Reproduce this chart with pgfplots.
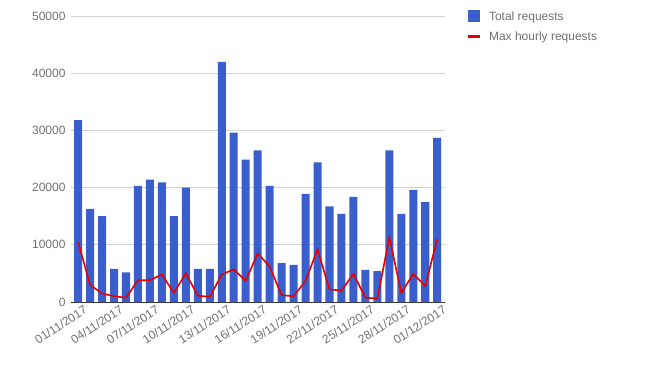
\documentclass[border=0pt]{standalone}
\usepackage{fontspec}
\setmainfont{Liberation Sans}
\usepackage{pgfplots}
\usepackage{pgfplotstable}
\pgfplotsset{compat=1.18}
\definecolor{barblue}{RGB}{58,95,205}
\definecolor{linered}{RGB}{230,0,0}
\definecolor{txtgray}{RGB}{112,112,112}
\definecolor{gridgray}{RGB}{210,210,210}
\definecolor{axisgray}{RGB}{60,60,60}

\pgfplotstableread{
x total max
0 31800 10500
1 16300 3000
2 15000 1500
3 5800 1000
4 5200 750
5 20300 3800
6 21400 3800
7 20900 4800
8 15000 1600
9 20000 5000
10 5800 1100
11 5800 900
12 42000 4800
13 29600 5700
14 24900 3700
15 26500 8500
16 20300 6200
17 6800 1200
18 6500 1000
19 18900 3700
20 24400 9200
21 16700 2200
22 15400 2000
23 18400 4900
24 5600 750
25 5400 600
26 26500 11300
27 15400 1600
28 19600 4900
29 17500 2800
30 28700 11000
}\data

\begin{document}
\begin{tikzpicture}
\begin{axis}[
  name=ax,
  scale only axis,
  width=374.3bp, height=286bp,
  xmin=-0.62, xmax=30.65,
  ymin=0, ymax=50000,
  ytick={0,10000,20000,30000,40000,50000},
  xtick={0,3,6,9,12,15,18,21,24,27,30},
  xticklabels={01/11/2017,04/11/2017,07/11/2017,10/11/2017,13/11/2017,16/11/2017,19/11/2017,22/11/2017,25/11/2017,28/11/2017,01/12/2017},
  scaled y ticks=false,
  /pgf/number format/assume math mode=true,
  /pgf/number format/set thousands separator={},
  tick label style={font=\fontsize{12bp}{14bp}\selectfont, text=txtgray},
  x tick label style={rotate=33, anchor=north east, inner sep=1bp, xshift=4bp, yshift=-4bp},
  y tick label style={inner sep=2bp, xshift=-3bp},
  major tick length=0pt,
  ymajorgrids,
  grid style={gridgray, line width=0.8bp},
  axis x line*=bottom,
  axis y line*=left,
  x axis line style={axisgray, line width=0.8bp, -},
  y axis line style={draw=none},
  legend style={at={(1.057,1.024)}, anchor=north west, draw=none, fill=none,
    font=\fontsize{12bp}{14bp}\selectfont, text=txtgray,
    row sep=6bp, column sep=5bp, inner sep=0pt, cells={anchor=west}},
  legend cell align=left,
]
\addplot[ybar, bar width=0.67, bar shift=0pt, fill=barblue, draw=none,
  legend image code/.code={\fill[barblue] (0bp,-6bp) rectangle (12bp,6bp);}]
  table[x=x, y=total] {\data};
\addlegendentry{Total requests}
\addplot[linered, line width=1.6bp, mark=none,
  legend image code/.code={\draw[linered, line width=3.5bp] (0bp,0bp) -- (12bp,0bp);}]
  table[x=x, y=max] {\data};
\addlegendentry{Max hourly requests}
\end{axis}
\pgfresetboundingbox
\path[use as bounding box] ([shift={(-70.7bp,-65bp)}]ax.south west) rectangle ++(655bp,367bp);
\end{tikzpicture}
\end{document}
